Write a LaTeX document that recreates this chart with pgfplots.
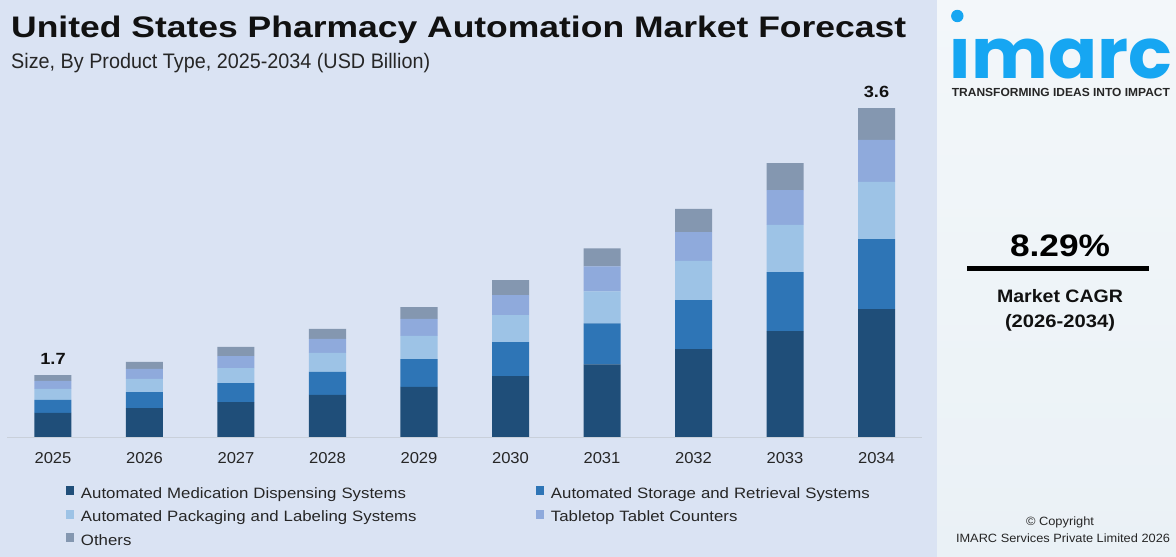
\documentclass[border=0pt]{standalone}
\usepackage{fontspec}
\setmainfont{Liberation Sans}
\newfontfamily\legendfont{Liberation Sans}[FakeStretch=1.12]
\newfontfamily\tickfont{Liberation Sans}[FakeStretch=1.05]
\newfontfamily\logofont{Poppins}
\usepackage{graphicx}
\usepackage{pgfplots}
\pgfplotsset{compat=1.18}
\usepackage{pgfplotstable}

\definecolor{bgpanel}{HTML}{DAE3F3}
\definecolor{sidepanel}{HTML}{F3F7FA}
\definecolor{sidepanelb}{HTML}{EAF1F6}
\definecolor{cDisp}{HTML}{1F4E79}
\definecolor{cStor}{HTML}{2E75B6}
\definecolor{cPack}{HTML}{9DC3E6}
\definecolor{cTab}{HTML}{8FAADC}
\definecolor{cOth}{HTML}{8497B0}
\definecolor{logoblue}{HTML}{16A6F2}
\definecolor{inkdark}{HTML}{111111}
\definecolor{inkmid}{HTML}{262626}
\definecolor{baseline}{HTML}{C9D0DA}

% scale a single line of text horizontally to a given width (in pt)
\newlength\fitw
\newcommand\fitto[2]{\settowidth\fitw{#2}\pgfmathsetmacro\fitsx{#1/\fitw}\scalebox{\fitsx}[1]{#2}}

% Market size by product type, USD billion (stacked segments;
% the axis starts at 1.259, the lowest segment carries that offset)
\pgfplotstableread{
idx year disp  stor  pack  tab   oth
0   2025 1.430 0.093 0.078 0.057 0.042
1   2026 1.465 0.114 0.093 0.071 0.050
2   2027 1.508 0.135 0.107 0.085 0.066
3   2028 1.558 0.164 0.135 0.100 0.071
4   2029 1.615 0.199 0.164 0.121 0.085
5   2030 1.693 0.242 0.192 0.142 0.107
6   2031 1.776 0.292 0.228 0.178 0.128
7   2032 1.885 0.349 0.278 0.206 0.164
8   2033 2.013 0.420 0.335 0.249 0.192
9   2034 2.170 0.498 0.406 0.299 0.227
}\marketdata

\pgfplotsset{
  sqlegend/.style={legend image code/.code={\fill[##1,draw=none] (0pt,-0.6pt) rectangle (8pt,8.4pt);}},
}

\begin{document}
\begin{tikzpicture}[x=1pt,y=1pt]
\useasboundingbox (0,0) rectangle (1176,557);
\fill[bgpanel] (0,0) rectangle (937,557);
\shade[top color=sidepanel, bottom color=sidepanelb] (937,0) rectangle (1176,557);

% headings
\node[anchor=base west, inner sep=0pt, text=inkdark] at (11,519.7)
  {\fitto{895}{\fontsize{29.7}{34}\selectfont\bfseries United States Pharmacy Automation Market Forecast}};
\node[anchor=base west, inner sep=0pt, text=inkmid] at (11,488.7)
  {\fitto{419}{\fontsize{21}{25}\selectfont Size, By Product Type, 2025-2034 (USD Billion)}};

\begin{axis}[
  at={(7.25pt,120pt)}, anchor=south west,
  scale only axis, width=915pt, height=357pt,
  xmin=-0.5, xmax=9.5, ymin=1.259, ymax=3.8,
  ybar stacked, bar width=37pt,
  axis y line=none,
  axis x line*=bottom,
  x axis line style={draw=baseline, line width=0.8pt, -},
  xtick={0,...,9},
  xticklabels={2025,2026,2027,2028,2029,2030,2031,2032,2033,2034},
  major tick length=0pt,
  xticklabel style={font=\tickfont\fontsize{15.8}{19}\selectfont, text=inkmid, anchor=base, yshift=-27pt},
  clip mode=individual,
  legend cell align=left,
  legend style={
    at={(0.0642,-0.1378)}, anchor=north west,
    draw=none, fill=none, inner sep=0pt, outer sep=0pt,
    legend columns=2, column sep=0pt, row sep=8pt,
    font=\legendfont\fontsize{15}{18}\selectfont, text=inkmid,
    /tikz/every odd column/.append style={column sep=7pt},
    nodes={inner sep=0pt, text width=455pt, text height=11pt, text depth=3pt, align=left},
  },
]
\addplot[fill=cDisp, draw=none, sqlegend] table[x=idx, y=disp] {\marketdata};
\addlegendentry{Automated Medication Dispensing Systems}
\addplot[fill=cStor, draw=none, sqlegend] table[x=idx, y=stor] {\marketdata};
\addlegendentry{Automated Storage and Retrieval Systems}
\addplot[fill=cPack, draw=none, sqlegend] table[x=idx, y=pack] {\marketdata};
\addlegendentry{Automated Packaging and Labeling Systems}
\addplot[fill=cTab, draw=none, sqlegend] table[x=idx, y=tab] {\marketdata};
\addlegendentry{Tabletop Tablet Counters}
\addplot[fill=cOth, draw=none, sqlegend] table[x=idx, y=oth] {\marketdata};
\addlegendentry{Others}

% totals above the first and last bars
\node[anchor=base, yshift=11pt, inner sep=0pt, text=inkdark] at (axis cs:0,1.7)
  {\fitto{25.3}{\bfseries\fontsize{16.2}{19}\selectfont 1.7}};
\node[anchor=base, yshift=11pt, inner sep=0pt, text=inkdark] at (axis cs:9,3.6)
  {\fitto{25.3}{\bfseries\fontsize{16.2}{19}\selectfont 3.6}};
\end{axis}

% side panel
\fill[logoblue] (957.3,541) circle (6.2);
\node[anchor=base west, inner sep=0pt, text=logoblue] at (948,478)
  {\fitto{224}{\logofont\bfseries\fontsize{70}{80}\selectfont ımarc}};
\node[anchor=base west, inner sep=0pt, text=inkmid] at (951.7,460.3)
  {\fitto{218}{\bfseries\fontsize{11.7}{14}\selectfont TRANSFORMING IDEAS INTO IMPACT}};
\node[anchor=base, inner sep=0pt, text=black] at (1060,300)
  {\fitto{100}{\bfseries\fontsize{31}{36}\selectfont 8.29\%}};
\draw[black, line width=5pt] (967,288) -- (1149,288);
\node[anchor=base, inner sep=0pt, text=inkdark] at (1060,254)
  {\fitto{126}{\bfseries\fontsize{18}{22}\selectfont Market CAGR}};
\node[anchor=base, inner sep=0pt, text=inkdark] at (1060,229)
  {\fitto{110}{\bfseries\fontsize{18}{22}\selectfont (2026-2034)}};
\node[anchor=base, inner sep=0pt, text=inkmid] at (1060,31)
  {\fitto{68}{\fontsize{12}{14}\selectfont \textcopyright\ Copyright}};
\node[anchor=base, inner sep=0pt, text=inkmid] at (1063,14)
  {\fitto{214}{\fontsize{12}{14}\selectfont IMARC Services Private Limited 2026}};
\end{tikzpicture}
\end{document}
